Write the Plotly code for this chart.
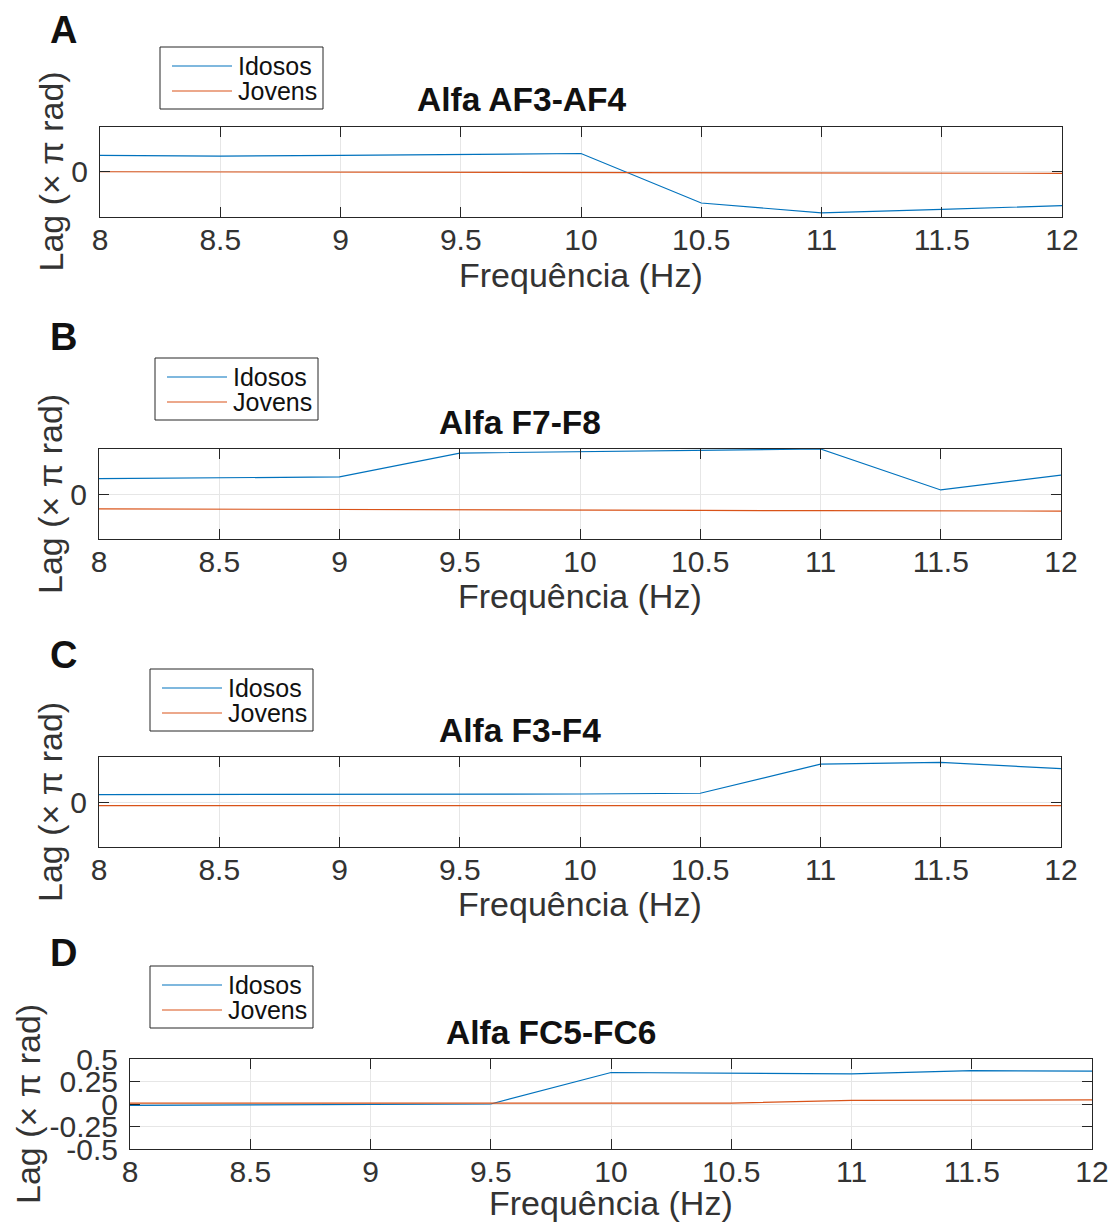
import plotly.graph_objects as go

W, H = 1115, 1222

freq = [8, 8.5, 9, 9.5, 10, 10.5, 11, 11.5, 12]
x_ticks = [8, 8.5, 9, 9.5, 10, 10.5, 11, 11.5, 12]
x_tick_text = ["8", "8.5", "9", "9.5", "10", "10.5", "11", "11.5", "12"]

titles = ["Alfa AF3-AF4", "Alfa F7-F8", "Alfa F3-F4", "Alfa FC5-FC6"]
letters = ["A", "B", "C", "D"]

idosos_A = [0.18, 0.17, 0.18, 0.19, 0.20, -0.35, -0.46, -0.42, -0.38]
jovens_A = [-0.003, -0.005, -0.007, -0.009, -0.011, -0.013, -0.015, -0.017, -0.02]

idosos_B = [0.17, 0.18, 0.19, 0.455, 0.47, 0.485, 0.50, 0.045, 0.21]
jovens_B = [-0.165, -0.17, -0.175, -0.178, -0.181, -0.183, -0.185, -0.187, -0.19]

idosos_C = [0.082, 0.083, 0.085, 0.087, 0.089, 0.097, 0.42, 0.44, 0.37]
jovens_C = [-0.04, -0.04, -0.04, -0.04, -0.04, -0.04, -0.04, -0.04, -0.04]

idosos_D = [-0.015, -0.01, -0.005, 0.0, 0.35, 0.34, 0.335, 0.37, 0.365]
jovens_D = [0.01, 0.01, 0.01, 0.01, 0.01, 0.01, 0.04, 0.04, 0.045]

series_names = ["Idosos", "Jovens"]
colors = ["#0072BD", "#D95319"]

yticks_ABC = [0]
yticks_D = [-0.5, -0.25, 0, 0.25, 0.5]

data = [(idosos_A, jovens_A), (idosos_B, jovens_B), (idosos_C, jovens_C), (idosos_D, jovens_D)]

# layout in pixels
plot_boxes = [  # x0, x1, y0(top), y1(bottom)
    (100, 1062, 126.5, 216.5),
    (99, 1061, 449, 539),
    (99, 1061, 757, 847),
    (130, 1092, 1059, 1149),
]
legend_boxes = [(160, 323, 47, 109), (155, 318, 358, 420), (150, 313, 669, 731), (150, 313, 966, 1028)]
letter_pos = [(63, 30), (63, 337), (63, 655), (63, 953)]
ylabel_x = [50, 50, 50, 28]
xtitle_offset = [58, 57, 57, 54]

FONT = "Liberation Sans, Arial, Helvetica, sans-serif"
TXT = "#333333"
AX = "#262626"

fig = go.Figure()
annotations = []
shapes = []
layout = dict(
    width=W, height=H, autosize=False,
    margin=dict(l=0, r=0, t=0, b=0, pad=0, autoexpand=False),
    paper_bgcolor="white", plot_bgcolor="white",
    font=dict(family=FONT, color=TXT),
    showlegend=False,
)


def px(x):
    return x / W


def py(y):
    return 1 - y / H


for i in range(4):
    sfx = "" if i == 0 else str(i + 1)
    x0, x1, yt, yb = plot_boxes[i]
    for j, (vals, name) in enumerate(zip(data[i], series_names)):
        fig.add_trace(go.Scatter(
            x=freq, y=vals, mode="lines", name=name,
            line=dict(color=colors[j], width=1.2),
            xaxis="x" + sfx, yaxis="y" + sfx,
        ))
    yt_vals = yticks_D if i == 3 else yticks_ABC
    common = dict(
        ticks="inside", ticklen=10, tickcolor=AX, mirror="ticks", showline=True,
        linecolor=AX, linewidth=1, showgrid=True, gridcolor="#e6e6e6", gridwidth=1,
        zeroline=False, tickfont=dict(size=30, color=TXT, family=FONT), automargin=False,
    )
    layout["xaxis" + sfx] = dict(
        domain=[px(x0), px(x1)], anchor="y" + sfx, range=[8, 12],
        tickvals=x_ticks, ticktext=x_tick_text, ticklabelstandoff=-4, **common,
    )
    layout["yaxis" + sfx] = dict(
        domain=[py(yb), py(yt)], anchor="x" + sfx, range=[-0.5, 0.5],
        tickvals=yt_vals, ticktext=[("%g" % v) for v in yt_vals], ticklabelstandoff=5, **common,
    )
    # MATLAB-style legend box
    bx0, bx1, by0, by1 = legend_boxes[i]
    shapes.append(dict(type="rect", xref="paper", yref="paper",
                       x0=px(bx0), x1=px(bx1), y0=py(by1), y1=py(by0),
                       line=dict(color=AX, width=1), fillcolor="white", layer="above"))
    for j, name in enumerate(series_names):
        ly = by0 + 19 + 25 * j
        shapes.append(dict(type="line", xref="paper", yref="paper",
                           x0=px(bx0 + 12), x1=px(bx0 + 72), y0=py(ly), y1=py(ly),
                           line=dict(color=colors[j], width=1.2), layer="above"))
        annotations.append(dict(
            text=name, x=px(bx0 + 76), y=py(ly), xref="paper", yref="paper",
            xanchor="left", yanchor="middle", showarrow=False,
            font=dict(size=25, color="#111", family=FONT),
        ))
    annotations.append(dict(
        text="<b>%s</b>" % titles[i], x=px((x0 + x1) / 2 - 60), y=py(yt - 27),
        xref="paper", yref="paper", xanchor="center", yanchor="middle",
        showarrow=False, font=dict(size=33.5, color="#111", family=FONT),
    ))
    annotations.append(dict(
        text="Frequência (Hz)", x=px((x0 + x1) / 2), y=py(yb + xtitle_offset[i]),
        xref="paper", yref="paper", xanchor="center", yanchor="middle",
        showarrow=False, font=dict(size=34, color=TXT, family=FONT),
    ))
    annotations.append(dict(
        text="Lag (× π rad)", x=px(ylabel_x[i]), y=py((yt + yb) / 2),
        xref="paper", yref="paper", xanchor="center", yanchor="middle",
        textangle=-90, showarrow=False, font=dict(size=34, color=TXT, family=FONT),
    ))
    lx2, ly2 = letter_pos[i]
    annotations.append(dict(
        text="<b>%s</b>" % letters[i], x=px(lx2), y=py(ly2),
        xref="paper", yref="paper", xanchor="center", yanchor="middle",
        showarrow=False, font=dict(size=38, color="#111", family=FONT),
    ))

layout["annotations"] = annotations
layout["shapes"] = shapes
fig.update_layout(**layout)
fig.write_html("out.html")
